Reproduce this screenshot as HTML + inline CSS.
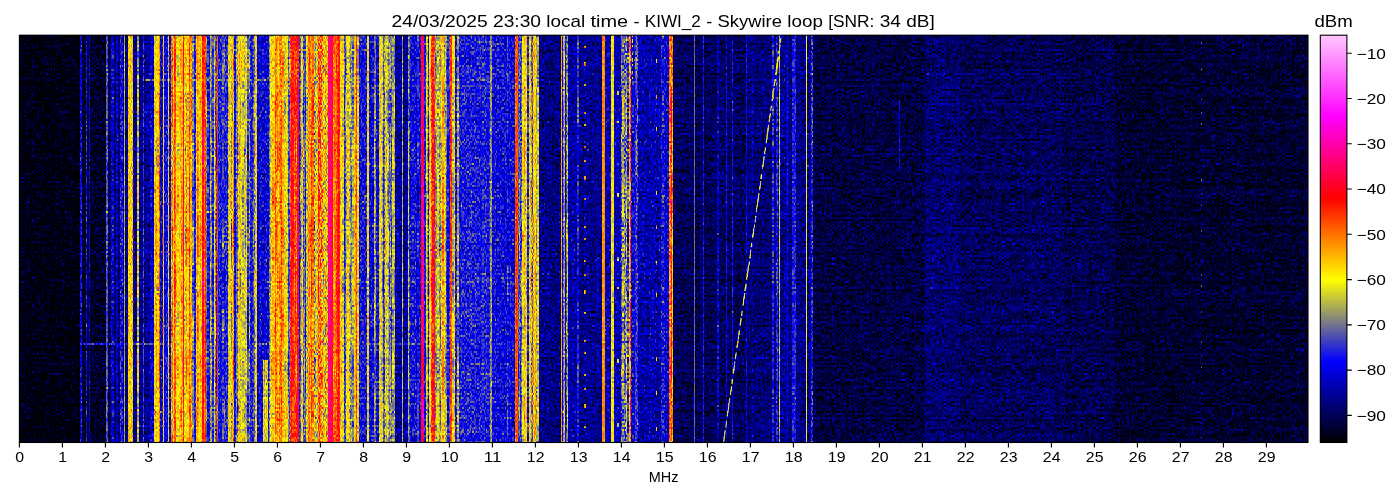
<!DOCTYPE html>
<html><head><meta charset="utf-8"><title>waterfall</title>
<style>
html,body{margin:0;padding:0;background:#fff;}
body{width:1400px;height:500px;position:relative;overflow:hidden;font-family:"Liberation Sans",sans-serif;color:#000;}
#plot{position:absolute;left:19px;top:35px;width:1289px;height:408px;background:#000;overflow:hidden;}
#cbar{position:absolute;left:1320px;top:35px;width:27px;height:407.6px;background:linear-gradient(to top,#000 0%,#000080 10%,#0000ff 20%,#808080 30%,#ffff00 40%,#ff8000 50%,#ff0000 60%,#ff0080 70%,#ff00ff 80%,#ff64ff 90%,#ffc8ff 100%);}
#chrome{position:absolute;left:0;top:0;will-change:transform;}
#chrome text{font-family:"Liberation Sans",sans-serif;fill:#000;}
</style></head><body>
<div id="plot"><svg id="heat" width="1289" height="408" viewBox="19 35 1289 408" style="position:absolute;left:0;top:0">
<defs><filter id="wf" filterUnits="userSpaceOnUse" x="19" y="35" width="1289" height="408" color-interpolation-filters="sRGB">
<feFlood flood-color="#808000" x="19" y="35" width="5" height="1" result="fa"/>
<feFlood flood-color="#800000" x="19" y="36" width="5" height="1" result="fb"/>
<feFlood flood-color="#008000" x="23" y="35" width="1" height="1" result="fc"/>
<feFlood flood-color="#000000" x="23" y="36" width="1" height="1" result="fd"/>
<feMerge x="19" y="35" width="5" height="2" result="tile"><feMergeNode in="fa"/><feMergeNode in="fb"/><feMergeNode in="fc"/><feMergeNode in="fd"/></feMerge>
<feTile in="tile" result="d"/>
<feTurbulence type="fractalNoise" baseFrequency="0.83 0.71" numOctaves="1" seed="3"/>
<feColorMatrix type="matrix" values="1 0 0 0 0 1 0 0 0 0 1 0 0 0 0 0 0 0 0 1" result="t1"/>
<feTurbulence type="fractalNoise" baseFrequency="0.59 0.63" numOctaves="1" seed="11"/>
<feColorMatrix type="matrix" values="1 0 0 0 0 1 0 0 0 0 1 0 0 0 0 0 0 0 0 1" result="t2"/>
<feComposite in="t1" in2="t2" operator="arithmetic" k1="0" k2="0.7" k3="0.7" k4="-0.200"/>
<feColorMatrix type="matrix" values="0 0 0 0 0  0 1 0 0 0  0 0 0 0 0  0 0 0 0 1" result="nf"/>
<feTurbulence type="fractalNoise" baseFrequency="1 0.002" numOctaves="1" seed="23"/>
<feColorMatrix type="matrix" values="1 0 0 0 0 1 0 0 0 0 1 0 0 0 0 0 0 0 0 1" result="t3"/>
<feTurbulence type="fractalNoise" baseFrequency="1 0.023" numOctaves="1" seed="57"/>
<feColorMatrix type="matrix" values="1 0 0 0 0 1 0 0 0 0 1 0 0 0 0 0 0 0 0 1" result="t4"/>
<feComposite in="t3" in2="t4" operator="arithmetic" k1="0" k2="0.8" k3="0.65" k4="-0.225"/>
<feColorMatrix type="matrix" values="0 0 0 0 0  0 0 0 0 0  1 0 0 0 0  0 0 0 0 1" result="ns"/>
<feComposite in="nf" in2="ns" operator="arithmetic" k1="0" k2="1" k3="1" k4="0" result="nfs"/>
<feTurbulence type="fractalNoise" baseFrequency="0.0035 0.47" numOctaves="1" seed="41"/>
<feColorMatrix type="matrix" values="1 0 0 0 0  0 0 0 0 0  0 0 0 0 0  0 0 0 0 1" result="nr"/>
<feComposite in="nfs" in2="nr" operator="arithmetic" k1="0" k2="1" k3="1" k4="0" result="nn"/>
<feDisplacementMap in="nn" in2="d" scale="2" xChannelSelector="R" yChannelSelector="G" result="nd"/>
<feColorMatrix in="SourceGraphic" type="matrix" values="0 0 0 0 0.08  0 1 0 0 0  0 0 1 0 0  0 0 0 0 1" result="a"/>
<feComposite in="a" in2="nd" operator="arithmetic" k1="1" k2="-0.5" k3="0" k4="0.5" result="p"/>
<feColorMatrix in="p" type="matrix" values="1.000 1.000 1.000 0 -1.000  1.000 1.000 1.000 0 -1.000  1.000 1.000 1.000 0 -1.000  0 0 0 0 1" result="pn"/>
<feColorMatrix in="SourceGraphic" type="matrix" values="1 0 0 0 0 1 0 0 0 0 1 0 0 0 0 0 0 0 0 1" result="lv"/>
<feComposite in="lv" in2="pn" operator="arithmetic" k1="0" k2="1" k3="1" k4="-0.5" result="l"/>
<feComponentTransfer in="l"><feFuncR type="table" tableValues="0.000 0.000 0.000 0.500 1.000 1.000 1.000 1.000 1.000 1.000 1.000"/><feFuncG type="table" tableValues="0.000 0.000 0.000 0.500 1.000 0.500 0.000 0.000 0.000 0.390 0.780"/><feFuncB type="table" tableValues="0.000 0.500 1.000 0.500 0.000 0.000 0.000 0.500 1.000 1.000 1.000"/></feComponentTransfer>
</filter></defs>
<g filter="url(#wf)">
<g shape-rendering="crispEdges">
<rect x="19" y="35" width="1289" height="408" fill="#116108"/>
<rect x="19" y="35" width="60.55" height="408" fill="#006108"/>
<rect x="79.5" y="35" width="2.55" height="408" fill="#2d6b1a"/>
<rect x="82" y="35" width="3.55" height="408" fill="#086108"/>
<rect x="85.5" y="35" width="1.55" height="408" fill="#336b1a"/>
<rect x="87" y="35" width="1.55" height="408" fill="#086108"/>
<rect x="88.5" y="35" width="1.55" height="408" fill="#286b1a"/>
<rect x="90" y="35" width="15.85" height="408" fill="#076108"/>
<rect x="105.8" y="35" width="2.25" height="408" fill="#444c14"/>
<rect x="108" y="35" width="3.05" height="408" fill="#106108"/>
<rect x="111" y="35" width="2.55" height="408" fill="#2c6b1a"/>
<rect x="113.5" y="35" width="2.55" height="408" fill="#156108"/>
<rect x="116" y="35" width="2.05" height="408" fill="#286b1a"/>
<rect x="118" y="35" width="2.05" height="408" fill="#156108"/>
<rect x="120" y="35" width="3.05" height="408" fill="#346b1a"/>
<rect x="123" y="35" width="0.75" height="408" fill="#1a6b1a"/>
<rect x="123.7" y="35" width="1.15" height="408" fill="#55331a"/>
<rect x="124.8" y="35" width="3.25" height="408" fill="#1a6b1a"/>
<rect x="128" y="35" width="5.05" height="408" fill="#696633"/>
<rect x="133" y="35" width="4.05" height="408" fill="#1c6b1a"/>
<rect x="137" y="35" width="2.05" height="408" fill="#565c6b"/>
<rect x="139" y="35" width="3.55" height="408" fill="#1a6b1a"/>
<rect x="142.5" y="35" width="1.35" height="408" fill="#3c4c1a"/>
<rect x="143.8" y="35" width="6.25" height="408" fill="#1c6b1a"/>
<rect x="150" y="35" width="4.05" height="408" fill="#286b1a"/>
<rect x="154" y="35" width="5.05" height="408" fill="#655c6b"/>
<rect x="159" y="35" width="1.05" height="408" fill="#7d5c6b"/>
<rect x="160" y="35" width="3.05" height="408" fill="#306b1a"/>
<rect x="163" y="35" width="1.25" height="408" fill="#665c6b"/>
<rect x="164.2" y="35" width="3.85" height="408" fill="#306b1a"/>
<rect x="168" y="35" width="1.25" height="408" fill="#5e5c6b"/>
<rect x="169.2" y="35" width="1.85" height="408" fill="#306b1a"/>
<rect x="171" y="35" width="2.05" height="408" fill="#855c6b"/>
<rect x="173" y="35" width="1.05" height="408" fill="#695c6b"/>
<rect x="174" y="35" width="2.05" height="408" fill="#8b5c6b"/>
<rect x="176" y="35" width="3.05" height="408" fill="#5e5c6b"/>
<rect x="179" y="35" width="3.55" height="408" fill="#715c6b"/>
<rect x="182.5" y="35" width="1.55" height="408" fill="#965c6b"/>
<rect x="184" y="35" width="5.05" height="408" fill="#6c5c6b"/>
<rect x="189" y="35" width="3.05" height="408" fill="#855c6b"/>
<rect x="192" y="35" width="1.55" height="408" fill="#555c6b"/>
<rect x="193.5" y="35" width="2.55" height="408" fill="#336b1a"/>
<rect x="196" y="35" width="2.05" height="408" fill="#775c6b"/>
<rect x="198" y="35" width="4.05" height="408" fill="#6e5c6b"/>
<rect x="202" y="35" width="4.05" height="408" fill="#8e5c6b"/>
<rect x="206" y="35" width="1.05" height="408" fill="#4c5c6b"/>
<rect x="207" y="35" width="3.05" height="408" fill="#336b1a"/>
<rect x="210" y="35" width="2.05" height="408" fill="#4f5c6b"/>
<rect x="212" y="35" width="1.55" height="408" fill="#445c6b"/>
<rect x="213.5" y="35" width="1.55" height="408" fill="#585c6b"/>
<rect x="215" y="35" width="1.85" height="408" fill="#415c6b"/>
<rect x="216.8" y="35" width="1.25" height="408" fill="#885c6b"/>
<rect x="218" y="35" width="4.05" height="408" fill="#336b1a"/>
<rect x="222" y="35" width="3.05" height="408" fill="#445c6b"/>
<rect x="225" y="35" width="3.05" height="408" fill="#366b1a"/>
<rect x="228" y="35" width="3.05" height="408" fill="#665c6b"/>
<rect x="231" y="35" width="1.55" height="408" fill="#5e5c6b"/>
<rect x="232.5" y="35" width="1.05" height="408" fill="#7d5c6b"/>
<rect x="233.5" y="35" width="2.55" height="408" fill="#336b1a"/>
<rect x="236" y="35" width="2.05" height="408" fill="#4f5c6b"/>
<rect x="238" y="35" width="6.05" height="408" fill="#665c6b"/>
<rect x="244" y="35" width="2.55" height="408" fill="#5e5c6b"/>
<rect x="246.5" y="35" width="3.55" height="408" fill="#4a5c6b"/>
<rect x="250" y="35" width="2.55" height="408" fill="#366b1a"/>
<rect x="252.5" y="35" width="2.55" height="408" fill="#445c6b"/>
<rect x="255" y="35" width="1.55" height="408" fill="#665c6b"/>
<rect x="256.5" y="35" width="12.05" height="408" fill="#2d6b1a"/>
<rect x="268.5" y="35" width="1.55" height="408" fill="#555c6b"/>
<rect x="270" y="35" width="5.05" height="408" fill="#665c6b"/>
<rect x="275" y="35" width="2.55" height="408" fill="#7a5c6b"/>
<rect x="277.5" y="35" width="1.55" height="408" fill="#6e5c6b"/>
<rect x="279" y="35" width="2.55" height="408" fill="#7d5c6b"/>
<rect x="281.5" y="35" width="2.55" height="408" fill="#6c5c6b"/>
<rect x="284" y="35" width="2.05" height="408" fill="#5b5c6b"/>
<rect x="286" y="35" width="1.55" height="408" fill="#6e5c6b"/>
<rect x="287.5" y="35" width="2.05" height="408" fill="#4f5c6b"/>
<rect x="289.5" y="35" width="9.55" height="408" fill="#925c6b"/>
<rect x="299" y="35" width="2.05" height="408" fill="#415c6b"/>
<rect x="301" y="35" width="2.05" height="408" fill="#665c6b"/>
<rect x="303" y="35" width="3.05" height="408" fill="#415c6b"/>
<rect x="306" y="35" width="2.05" height="408" fill="#665c6b"/>
<rect x="308" y="35" width="2.05" height="408" fill="#885c6b"/>
<rect x="310" y="35" width="4.05" height="408" fill="#7d5c6b"/>
<rect x="314" y="35" width="4.05" height="408" fill="#5b9966"/>
<rect x="318" y="35" width="5.05" height="408" fill="#85b273"/>
<rect x="323" y="35" width="5.05" height="408" fill="#6c9966"/>
<rect x="328" y="35" width="5.05" height="408" fill="#ad4026"/>
<rect x="333" y="35" width="5.05" height="408" fill="#884c4c"/>
<rect x="338" y="35" width="2.05" height="408" fill="#994c33"/>
<rect x="340" y="35" width="4.05" height="408" fill="#635c6b"/>
<rect x="344" y="35" width="2.05" height="408" fill="#415c6b"/>
<rect x="346" y="35" width="2.55" height="408" fill="#695c6b"/>
<rect x="348.5" y="35" width="3.55" height="408" fill="#5b5c6b"/>
<rect x="352" y="35" width="1.55" height="408" fill="#445c6b"/>
<rect x="353.5" y="35" width="2.35" height="408" fill="#695c6b"/>
<rect x="355.8" y="35" width="1.45" height="408" fill="#995c6b"/>
<rect x="357.2" y="35" width="1.85" height="408" fill="#555c6b"/>
<rect x="359" y="35" width="8.05" height="408" fill="#346b1a"/>
<rect x="367" y="35" width="2.05" height="408" fill="#665c6b"/>
<rect x="369" y="35" width="5.05" height="408" fill="#306b1a"/>
<rect x="374" y="35" width="1.55" height="408" fill="#445c6b"/>
<rect x="375.5" y="35" width="3.55" height="408" fill="#306b1a"/>
<rect x="379" y="35" width="3.55" height="408" fill="#635c6b"/>
<rect x="382.5" y="35" width="2.55" height="408" fill="#4a5c6b"/>
<rect x="385" y="35" width="2.55" height="408" fill="#5b5c6b"/>
<rect x="387.5" y="35" width="7.55" height="408" fill="#4f5c6b"/>
<rect x="395" y="35" width="7.05" height="408" fill="#1e6b1a"/>
<rect x="402" y="35" width="1.05" height="408" fill="#524c1a"/>
<rect x="403" y="35" width="5.05" height="408" fill="#1e6b1a"/>
<rect x="408" y="35" width="2.05" height="408" fill="#4a5c6b"/>
<rect x="410" y="35" width="1.55" height="408" fill="#306b1a"/>
<rect x="411.5" y="35" width="0.85" height="408" fill="#665c6b"/>
<rect x="412.3" y="35" width="4.75" height="408" fill="#306b1a"/>
<rect x="417" y="35" width="1.55" height="408" fill="#445c6b"/>
<rect x="418.5" y="35" width="2.05" height="408" fill="#306b1a"/>
<rect x="420.5" y="35" width="3.55" height="408" fill="#a45c6b"/>
<rect x="424" y="35" width="1.55" height="408" fill="#336b1a"/>
<rect x="425.5" y="35" width="2.05" height="408" fill="#605c6b"/>
<rect x="427.5" y="35" width="1.55" height="408" fill="#396b1a"/>
<rect x="429" y="35" width="1.85" height="408" fill="#665c6b"/>
<rect x="430.8" y="35" width="4.25" height="408" fill="#8e5c6b"/>
<rect x="435" y="35" width="6.05" height="408" fill="#555c6b"/>
<rect x="441" y="35" width="3.05" height="408" fill="#6e5c6b"/>
<rect x="444" y="35" width="3.05" height="408" fill="#555c6b"/>
<rect x="447" y="35" width="2.55" height="408" fill="#415c6b"/>
<rect x="449.5" y="35" width="2.55" height="408" fill="#8c5c6b"/>
<rect x="452" y="35" width="3.05" height="408" fill="#695c6b"/>
<rect x="455" y="35" width="1.55" height="408" fill="#336b1a"/>
<rect x="456.5" y="35" width="2.55" height="408" fill="#525c6b"/>
<rect x="459" y="35" width="31.05" height="408" fill="#366b1a"/>
<rect x="490" y="35" width="2.05" height="408" fill="#514c1a"/>
<rect x="492" y="35" width="15.05" height="408" fill="#306b1a"/>
<rect x="507" y="35" width="1.05" height="408" fill="#445c6b"/>
<rect x="508" y="35" width="7.05" height="408" fill="#306b1a"/>
<rect x="515" y="35" width="3.05" height="408" fill="#874c26"/>
<rect x="518" y="35" width="4.05" height="408" fill="#3e5c6b"/>
<rect x="522" y="35" width="1.85" height="408" fill="#635c6b"/>
<rect x="523.8" y="35" width="3.25" height="408" fill="#6e5c6b"/>
<rect x="527" y="35" width="2.05" height="408" fill="#366b1a"/>
<rect x="529" y="35" width="2.05" height="408" fill="#665c6b"/>
<rect x="531" y="35" width="1.55" height="408" fill="#445c6b"/>
<rect x="532.5" y="35" width="3.55" height="408" fill="#715c6b"/>
<rect x="536" y="35" width="3.05" height="408" fill="#525c6b"/>
<rect x="539" y="35" width="21.85" height="408" fill="#1a6b1a"/>
<rect x="560.8" y="35" width="1.25" height="408" fill="#78331a"/>
<rect x="562" y="35" width="1.05" height="408" fill="#2d6b1a"/>
<rect x="563" y="35" width="2.05" height="408" fill="#565c6b"/>
<rect x="565" y="35" width="1.05" height="408" fill="#2d6b1a"/>
<rect x="566" y="35" width="1.55" height="408" fill="#4a5c6b"/>
<rect x="567.5" y="35" width="9.55" height="408" fill="#1f6b1a"/>
<rect x="577" y="35" width="1.55" height="408" fill="#3e5c6b"/>
<rect x="578.5" y="35" width="0.55" height="408" fill="#1f6b1a"/>
<rect x="579" y="35" width="23.05" height="408" fill="#1c6b1a"/>
<rect x="602" y="35" width="3.05" height="408" fill="#7d2614"/>
<rect x="605" y="35" width="6.05" height="408" fill="#286b1a"/>
<rect x="611" y="35" width="3.05" height="408" fill="#67401f"/>
<rect x="614" y="35" width="7.05" height="408" fill="#256b1a"/>
<rect x="621" y="35" width="3.05" height="408" fill="#4b8080"/>
<rect x="624" y="35" width="2.05" height="408" fill="#488080"/>
<rect x="626" y="35" width="1.05" height="408" fill="#568080"/>
<rect x="627" y="35" width="2.05" height="408" fill="#3c8066"/>
<rect x="629" y="35" width="2.05" height="408" fill="#7d9980"/>
<rect x="631" y="35" width="4.05" height="408" fill="#2d6b1a"/>
<rect x="635" y="35" width="3.05" height="408" fill="#3e5c6b"/>
<rect x="638" y="35" width="23.05" height="408" fill="#226b1a"/>
<rect x="661" y="35" width="4.05" height="408" fill="#336b1a"/>
<rect x="665" y="35" width="4.05" height="408" fill="#2a6b1a"/>
<rect x="669" y="35" width="4.05" height="408" fill="#828080"/>
<rect x="673" y="35" width="21.05" height="408" fill="#116108"/>
<rect x="694" y="35" width="1.15" height="408" fill="#47260d"/>
<rect x="695.1" y="35" width="7.95" height="408" fill="#116108"/>
<rect x="703" y="35" width="1.15" height="408" fill="#36330d"/>
<rect x="704.1" y="35" width="12.95" height="408" fill="#116108"/>
<rect x="717" y="35" width="2.05" height="408" fill="#2a6b1a"/>
<rect x="719" y="35" width="7.05" height="408" fill="#126108"/>
<rect x="726" y="35" width="1.05" height="408" fill="#2d4c0d"/>
<rect x="727" y="35" width="5.05" height="408" fill="#126108"/>
<rect x="732" y="35" width="1.05" height="408" fill="#334c0d"/>
<rect x="733" y="35" width="12.55" height="408" fill="#126108"/>
<rect x="745.5" y="35" width="1.35" height="408" fill="#304c0d"/>
<rect x="746.8" y="35" width="5.25" height="408" fill="#176108"/>
<rect x="752" y="35" width="1.25" height="408" fill="#22660d"/>
<rect x="753.2" y="35" width="6.85" height="408" fill="#176108"/>
<rect x="760" y="35" width="12.05" height="408" fill="#176108"/>
<rect x="772" y="35" width="2.05" height="408" fill="#36660d"/>
<rect x="774" y="35" width="2.05" height="408" fill="#1a6b1a"/>
<rect x="776" y="35" width="2.05" height="408" fill="#366633"/>
<rect x="778" y="35" width="1.05" height="408" fill="#226b1a"/>
<rect x="779" y="35" width="1.05" height="408" fill="#554c4c"/>
<rect x="780" y="35" width="7.05" height="408" fill="#1c6b1a"/>
<rect x="787" y="35" width="1.25" height="408" fill="#2d4c0d"/>
<rect x="788.2" y="35" width="3.85" height="408" fill="#1a6b1a"/>
<rect x="792" y="35" width="3.55" height="408" fill="#36590d"/>
<rect x="795.5" y="35" width="10.55" height="408" fill="#1a6b1a"/>
<rect x="806" y="35" width="1.05" height="408" fill="#662614"/>
<rect x="807" y="35" width="3.55" height="408" fill="#1a6b1a"/>
<rect x="810.5" y="35" width="2.55" height="408" fill="#39801a"/>
<rect x="813" y="35" width="2.05" height="408" fill="#0e6108"/>
<rect x="815" y="35" width="110.05" height="408" fill="#0c6108"/>
<rect x="925" y="35" width="35.05" height="408" fill="#156108"/>
<rect x="960" y="35" width="105.05" height="408" fill="#116108"/>
<rect x="1065" y="35" width="5.05" height="408" fill="#0d6108"/>
<rect x="1070" y="35" width="45.05" height="408" fill="#0e6108"/>
<rect x="1115" y="35" width="193.05" height="408" fill="#086108"/>
<rect x="262.5" y="360" width="5.00" height="83.00" fill="#5e5c6b"/>
<rect x="145" y="79" width="123.00" height="2.00" fill="#442908" style="mix-blend-mode:lighten"/>
<rect x="80" y="343" width="188.00" height="2.00" fill="#3e2908" style="mix-blend-mode:lighten"/>
<rect x="268" y="343" width="232.00" height="2.00" fill="#362908" style="mix-blend-mode:lighten"/>
</g>
<path d="M584.5 35V443" stroke="#774c1a" stroke-width="2" stroke-dasharray="2 12 2 14 4 18 2 26 2 10 2 20" stroke-dashoffset="3" fill="none" shape-rendering="crispEdges" style="mix-blend-mode:lighten"/>
<path d="M617.75 35V443" stroke="#664c1a" stroke-width="1.5" stroke-dasharray="4 60 4 26 2 70" stroke-dashoffset="8" fill="none" shape-rendering="crispEdges" style="mix-blend-mode:lighten"/>
<path d="M656.25 35V443" stroke="#664c1a" stroke-width="1.5" stroke-dasharray="4 30 4 32 4 28 4 60" stroke-dashoffset="10" fill="none" shape-rendering="crispEdges" style="mix-blend-mode:lighten"/>
<path d="M632.6 35V443" stroke="#744c1a" stroke-width="1.2" stroke-dasharray="2 2 4 2 2 6 2 3 4 2 2 5 3 3 2 500" stroke-dashoffset="0" fill="none" shape-rendering="crispEdges" style="mix-blend-mode:lighten"/>
<path d="M1201.15 35V443" stroke="#3e4c1a" stroke-width="1.3" stroke-dasharray="2 9 2 24 2 28 2 12" stroke-dashoffset="4" fill="none" shape-rendering="crispEdges" style="mix-blend-mode:lighten"/>
<path d="M899.5 35V443" stroke="#2d4c1a" stroke-width="1" stroke-dasharray="70 400" stroke-dashoffset="-65" fill="none" shape-rendering="crispEdges" style="mix-blend-mode:lighten"/>
<path d="M723.5 442.5L781.5 35.0" stroke="#69591a" stroke-width="1.45" stroke-dasharray="13 2 7 4 19 3 9 2 5 5" fill="none"/>
</g></svg></div>
<div id="cbar"></div>
<svg id="chrome" width="1400" height="500" viewBox="0 0 1400 500">
<rect x="19.4" y="35.2" width="1288.60" height="407.30" fill="none" stroke="#000" stroke-width="1.1"/>
<text x="15.28" y="462.30" font-size="14.4" textLength="8.84" lengthAdjust="spacingAndGlyphs">0</text>
<text x="58.28" y="462.30" font-size="14.4" textLength="8.84" lengthAdjust="spacingAndGlyphs">1</text>
<text x="101.28" y="462.30" font-size="14.4" textLength="8.84" lengthAdjust="spacingAndGlyphs">2</text>
<text x="144.28" y="462.30" font-size="14.4" textLength="8.84" lengthAdjust="spacingAndGlyphs">3</text>
<text x="187.28" y="462.30" font-size="14.4" textLength="8.84" lengthAdjust="spacingAndGlyphs">4</text>
<text x="230.28" y="462.30" font-size="14.4" textLength="8.84" lengthAdjust="spacingAndGlyphs">5</text>
<text x="273.28" y="462.30" font-size="14.4" textLength="8.84" lengthAdjust="spacingAndGlyphs">6</text>
<text x="316.28" y="462.30" font-size="14.4" textLength="8.84" lengthAdjust="spacingAndGlyphs">7</text>
<text x="359.28" y="462.30" font-size="14.4" textLength="8.84" lengthAdjust="spacingAndGlyphs">8</text>
<text x="402.28" y="462.30" font-size="14.4" textLength="8.84" lengthAdjust="spacingAndGlyphs">9</text>
<text x="440.86" y="462.30" font-size="14.4" textLength="17.67" lengthAdjust="spacingAndGlyphs">10</text>
<text x="483.86" y="462.30" font-size="14.4" textLength="17.67" lengthAdjust="spacingAndGlyphs">11</text>
<text x="526.86" y="462.30" font-size="14.4" textLength="17.67" lengthAdjust="spacingAndGlyphs">12</text>
<text x="569.86" y="462.30" font-size="14.4" textLength="17.67" lengthAdjust="spacingAndGlyphs">13</text>
<text x="612.86" y="462.30" font-size="14.4" textLength="17.67" lengthAdjust="spacingAndGlyphs">14</text>
<text x="655.86" y="462.30" font-size="14.4" textLength="17.67" lengthAdjust="spacingAndGlyphs">15</text>
<text x="698.86" y="462.30" font-size="14.4" textLength="17.67" lengthAdjust="spacingAndGlyphs">16</text>
<text x="741.86" y="462.30" font-size="14.4" textLength="17.67" lengthAdjust="spacingAndGlyphs">17</text>
<text x="784.86" y="462.30" font-size="14.4" textLength="17.67" lengthAdjust="spacingAndGlyphs">18</text>
<text x="827.86" y="462.30" font-size="14.4" textLength="17.67" lengthAdjust="spacingAndGlyphs">19</text>
<text x="870.86" y="462.30" font-size="14.4" textLength="17.67" lengthAdjust="spacingAndGlyphs">20</text>
<text x="913.86" y="462.30" font-size="14.4" textLength="17.67" lengthAdjust="spacingAndGlyphs">21</text>
<text x="956.86" y="462.30" font-size="14.4" textLength="17.67" lengthAdjust="spacingAndGlyphs">22</text>
<text x="999.86" y="462.30" font-size="14.4" textLength="17.67" lengthAdjust="spacingAndGlyphs">23</text>
<text x="1042.86" y="462.30" font-size="14.4" textLength="17.67" lengthAdjust="spacingAndGlyphs">24</text>
<text x="1085.86" y="462.30" font-size="14.4" textLength="17.67" lengthAdjust="spacingAndGlyphs">25</text>
<text x="1128.86" y="462.30" font-size="14.4" textLength="17.67" lengthAdjust="spacingAndGlyphs">26</text>
<text x="1171.86" y="462.30" font-size="14.4" textLength="17.67" lengthAdjust="spacingAndGlyphs">27</text>
<text x="1214.86" y="462.30" font-size="14.4" textLength="17.67" lengthAdjust="spacingAndGlyphs">28</text>
<text x="1257.86" y="462.30" font-size="14.4" textLength="17.67" lengthAdjust="spacingAndGlyphs">29</text>
<text x="1356.60" y="58.70" font-size="14.4" textLength="29.31" lengthAdjust="spacingAndGlyphs">−10</text>
<text x="1356.60" y="103.96" font-size="14.4" textLength="29.31" lengthAdjust="spacingAndGlyphs">−20</text>
<text x="1356.60" y="149.21" font-size="14.4" textLength="29.31" lengthAdjust="spacingAndGlyphs">−30</text>
<text x="1356.60" y="194.47" font-size="14.4" textLength="29.31" lengthAdjust="spacingAndGlyphs">−40</text>
<text x="1356.60" y="239.72" font-size="14.4" textLength="29.31" lengthAdjust="spacingAndGlyphs">−50</text>
<text x="1356.60" y="284.98" font-size="14.4" textLength="29.31" lengthAdjust="spacingAndGlyphs">−60</text>
<text x="1356.60" y="330.24" font-size="14.4" textLength="29.31" lengthAdjust="spacingAndGlyphs">−70</text>
<text x="1356.60" y="375.49" font-size="14.4" textLength="29.31" lengthAdjust="spacingAndGlyphs">−80</text>
<text x="1356.60" y="420.75" font-size="14.4" textLength="29.31" lengthAdjust="spacingAndGlyphs">−90</text>
<path d="M19.40 442.5v4.9M62.40 442.5v4.9M105.40 442.5v4.9M148.40 442.5v4.9M191.40 442.5v4.9M234.40 442.5v4.9M277.40 442.5v4.9M320.40 442.5v4.9M363.40 442.5v4.9M406.40 442.5v4.9M449.40 442.5v4.9M492.40 442.5v4.9M535.40 442.5v4.9M578.40 442.5v4.9M621.40 442.5v4.9M664.40 442.5v4.9M707.40 442.5v4.9M750.40 442.5v4.9M793.40 442.5v4.9M836.40 442.5v4.9M879.40 442.5v4.9M922.40 442.5v4.9M965.40 442.5v4.9M1008.40 442.5v4.9M1051.40 442.5v4.9M1094.40 442.5v4.9M1137.40 442.5v4.9M1180.40 442.5v4.9M1223.40 442.5v4.9M1266.40 442.5v4.9M1346.9 53.30h4.9M1346.9 98.56h4.9M1346.9 143.81h4.9M1346.9 189.07h4.9M1346.9 234.32h4.9M1346.9 279.58h4.9M1346.9 324.84h4.9M1346.9 370.09h4.9M1346.9 415.35h4.9" stroke="#000" stroke-width="1.1" fill="none"/>
<rect x="1320.3" y="35.2" width="26.60" height="407.30" fill="none" stroke="#000" stroke-width="1.1"/>
<text x="648.84" y="482.00" font-size="14.4" textLength="29.72" lengthAdjust="spacingAndGlyphs">MHz</text>
<text x="1314.48" y="27.20" font-size="17.0" textLength="38.25" lengthAdjust="spacingAndGlyphs">dBm</text>
<text x="391.63" y="27.20" font-size="17.0" textLength="96.06" lengthAdjust="spacingAndGlyphs">24/03/2025</text><text x="492.99" y="27.20" font-size="17.0" textLength="48.03" lengthAdjust="spacingAndGlyphs">23:30</text><text x="546.32" y="27.20" font-size="17.0" textLength="38.84" lengthAdjust="spacingAndGlyphs">local</text><text x="590.46" y="27.20" font-size="17.0" textLength="37.66" lengthAdjust="spacingAndGlyphs">time</text><text x="633.41" y="27.20" font-size="17.0" textLength="6.01" lengthAdjust="spacingAndGlyphs">-</text><text x="644.72" y="27.20" font-size="17.0" textLength="56.18" lengthAdjust="spacingAndGlyphs">KIWI_2</text><text x="706.20" y="27.20" font-size="17.0" textLength="6.01" lengthAdjust="spacingAndGlyphs">-</text><text x="717.51" y="27.20" font-size="17.0" textLength="64.50" lengthAdjust="spacingAndGlyphs">Skywire</text><text x="787.31" y="27.20" font-size="17.0" textLength="35.60" lengthAdjust="spacingAndGlyphs">loop</text><text x="828.21" y="27.20" font-size="17.0" textLength="46.23" lengthAdjust="spacingAndGlyphs">[SNR:</text><text x="879.75" y="27.20" font-size="17.0" textLength="21.21" lengthAdjust="spacingAndGlyphs">34</text><text x="906.25" y="27.20" font-size="17.0" textLength="28.52" lengthAdjust="spacingAndGlyphs">dB]</text>
</svg>
</body></html>
